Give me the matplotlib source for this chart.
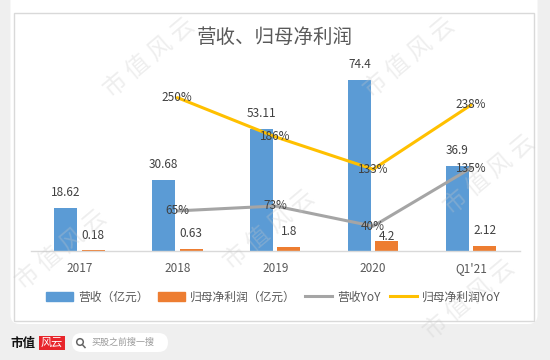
import numpy as np
import matplotlib
matplotlib.use('Agg')
import matplotlib.pyplot as plt
from matplotlib.patches import FancyBboxPatch, Patch, Circle
from matplotlib.lines import Line2D

plt.rcParams['font.family'] = ['Noto Sans CJK SC', 'DejaVu Sans']

# data
categories = ['2017', '2018', '2019', '2020', "Q1'21"]
revenue = [18.62, 30.68, 53.11, 74.4, 36.9]          # 营收（亿元）
net_profit = [0.18, 0.63, 1.8, 4.2, 2.12]            # 归母净利润（亿元）
revenue_yoy = [np.nan, 65, 73, 40, 135]              # 营收YoY (%)
profit_yoy = [np.nan, 250, 186, 133, 238]            # 归母净利润YoY (%)

BLUE = '#5B9BD5'
ORANGE = '#ED7D31'
GRAY = '#A5A5A5'
YELLOW = '#FFC000'
TXT = '#595959'
LBL = '#404040'

W, H = 550, 360
fig = plt.figure(figsize=(5.5, 3.6), dpi=100)
fig.patch.set_facecolor('#efefef')

# background layer in pixel coords
bg = fig.add_axes([0, 0, 1, 1], zorder=-5)
bg.set_xlim(0, W)
bg.set_ylim(H, 0)
bg.axis('off')
bg.add_patch(FancyBboxPatch((10.5, -10), 527, 334, boxstyle='round,pad=0,rounding_size=9',
                            fc='white', ec='none'))
bg.add_patch(plt.Rectangle((14, 13), 520, 308, fc='white', ec='#d9d9d9', lw=1))

# footer logo + search pill
bg.text(10, 343, '市值', fontsize=9, fontweight='bold', color='#111111', va='center', ha='left')
bg.text(52, 343, '风云', fontsize=8, color='white', va='center', ha='center', style='italic',
        bbox=dict(boxstyle='square,pad=0.2', fc='#e8252b', ec='none'))
bg.add_patch(FancyBboxPatch((72, 333), 96, 19, boxstyle='round,pad=0,rounding_size=9.5',
                            fc='white', ec='none'))
bg.add_patch(Circle((80, 342), 3.3, fc='none', ec='#666666', lw=1.1))
bg.plot([82.3, 85], [344.5, 347.5], color='#666666', lw=1.1)
bg.text(92, 342.5, '买股之前搜一搜', fontsize=6.5, color='#9a9a9a', va='center', ha='left')

# main chart
ax = fig.add_axes([30.5 / W, 1 - 250.7 / H, (520 - 30.5) / W, (250.7 - 67) / H])
ax.set_facecolor('none')
x = np.arange(len(categories))
bw = 0.235
off = 0.14
ax.bar(x - off, revenue, bw, color=BLUE, zorder=2)
ax.bar(x + off, net_profit, bw, color=ORANGE, zorder=2)
ax.set_xlim(-0.5, len(categories) - 0.5)
ax.set_ylim(0, 80)
ax.set_yticks([])
ax.set_xticks(x)
ax.set_xticklabels(categories, fontsize=8.5, color=TXT)
ax.tick_params(axis='x', length=0, pad=8)
for s in ['top', 'left', 'right']:
    ax.spines[s].set_visible(False)
ax.spines['bottom'].set_color('#d9d9d9')
ax.spines['bottom'].set_linewidth(1)

for xi, v in zip(x, revenue):
    ax.annotate(f'{v:g}', (xi - off, v), xytext=(0, 11), textcoords='offset points',
                ha='center', va='center', fontsize=8.5, color=LBL)
for xi, v in zip(x, net_profit):
    dy = 3 if v == max(net_profit) else 11  # excel nudged this one down
    ax.annotate(f'{v:g}', (xi + off, v), xytext=(0, dy), textcoords='offset points',
                ha='center', va='center', fontsize=8.5, color=LBL)

ax2 = ax.twinx()
ax2.set_ylim(0, 300)
ax2.set_yticks([])
for s in ['top', 'left', 'right', 'bottom']:
    ax2.spines[s].set_visible(False)
ax2.plot(x, revenue_yoy, color=GRAY, lw=2.2, solid_capstyle='round', zorder=3)
ax2.plot(x, profit_yoy, color=YELLOW, lw=2.2, solid_capstyle='round', zorder=3)
for yoy in (revenue_yoy, profit_yoy):
    for xi, v in zip(x, yoy):
        if np.isnan(v):
            continue
        ax2.text(xi, v, f'{v:g}%', ha='center', va='center', fontsize=8.5, color=LBL, zorder=4)

fig.text(0.5, 1 - 37 / H, '营收、归母净利润', ha='center', va='center', fontsize=14,
         color=TXT, fontweight='light')

handles = [Patch(color=BLUE), Patch(color=ORANGE),
           Line2D([], [], color=GRAY, lw=2.2), Line2D([], [], color=YELLOW, lw=2.2)]
labels = ['营收（亿元）', '归母净利润（亿元）', '营收YoY', '归母净利润YoY']
fig.legend(handles, labels, loc='center', bbox_to_anchor=(273.5 / W, 1 - 297 / H), ncol=4,
           frameon=False, fontsize=8.5, labelcolor=TXT, handlelength=2.3, handleheight=0.7,
           handletextpad=0.4, columnspacing=0.8)

# watermark overlay
wm = fig.add_axes([0, 0, 1, 1], zorder=10)
wm.set_xlim(0, W)
wm.set_ylim(H, 0)
wm.axis('off')
wm.patch.set_alpha(0)
for cx, cy in [(150, 58), (410, 58), (270, 230), (62, 250), (490, 175), (470, 300)]:
    wm.text(cx, cy, '市 值 风 云', fontsize=17, color='#c8c8c8', alpha=0.3, rotation=40,
            ha='center', va='center')

fig.savefig('out.png', dpi=100, facecolor=fig.get_facecolor())
